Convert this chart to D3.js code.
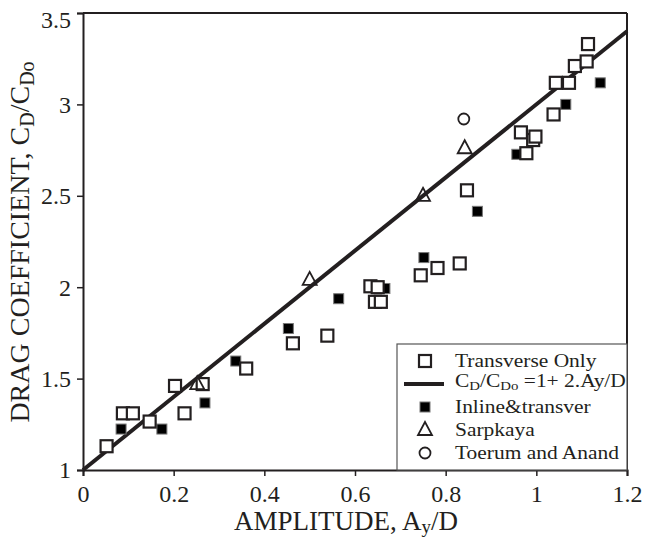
<!DOCTYPE html>
<html>
<head>
<meta charset="utf-8">
<script src="https://cdn.jsdelivr.net/npm/d3@7"></script>
<style>
  html, body { margin: 0; padding: 0; background: #fff; }
  svg text { font-family: 'Liberation Serif', 'Times New Roman', 'DejaVu Serif', serif !important; fill: #231f20; }
</style>
</head>
<body>
<svg id="chart" width="645" height="539" font-family="'Liberation Serif', serif"></svg>
<script>
// Measured drag amplification versus cross-flow amplitude
const transverseX = [0.052, 0.088, 0.110, 0.147, 0.203, 0.224, 0.264, 0.360, 0.463, 0.539,
  0.634, 0.650, 0.644, 0.657, 0.745, 0.782, 0.831, 0.847, 0.966, 0.978, 0.993, 0.998,
  1.038, 1.043, 1.072, 1.085, 1.111, 1.114];
const transverseY = [1.13, 1.31, 1.31, 1.265, 1.46, 1.31, 1.47, 1.555, 1.693, 1.735,
  2.005, 2.00, 1.92, 1.92, 2.065, 2.105, 2.13, 2.53, 2.847, 2.733, 2.805, 2.824,
  2.945, 3.118, 3.118, 3.21, 3.235, 3.33];

const inlineX = [0.084, 0.174, 0.269, 0.337, 0.453, 0.564, 0.666, 0.752, 0.870, 0.957, 1.065, 1.141];
const inlineY = [1.224, 1.224, 1.367, 1.596, 1.774, 1.937, 1.993, 2.162, 2.415, 2.727, 3.00, 3.118];

const sarpkayaX = [0.252, 0.50, 0.75, 0.842];
const sarpkayaY = [1.47, 2.04, 2.50, 2.76];

const toerumX = [0.84];
const toerumY = [2.92];

// Empirical fit CD/CDo = 1 + 2 Ay/D
const fitX = [0, 1.2];
const fitIntercept = 1;
const fitSlope = 2;

const xTicks = [0, 0.2, 0.4, 0.6, 0.8, 1, 1.2];
const yTicks = [1, 1.5, 2, 2.5, 3, 3.5];

const ink = "#231f20";
const serif = "'Liberation Serif', 'Times New Roman', serif";
const svg = d3.select("#chart");

const x = d3.scaleLinear().domain([0, 1.2]).range([83, 627]);
const y = d3.scaleLinear().domain([1, 3.5]).range([470, 13]);

// Axes
const xAxis = svg.append("g").attr("transform", `translate(0,${y(1)})`)
  .call(d3.axisBottom(x).tickValues(xTicks).tickSize(6).tickPadding(7)
    .tickFormat(d3.format("~g")));
const yAxis = svg.append("g").attr("transform", `translate(${x(0)},0)`)
  .call(d3.axisLeft(y).tickValues(yTicks).tickSize(6).tickPadding(6)
    .tickFormat(d3.format("~g")));
[xAxis, yAxis].forEach(g => {
  g.attr("font-family", serif);
  g.select(".domain").attr("stroke", ink).attr("stroke-width", 2);
  g.selectAll(".tick line").attr("stroke", ink).attr("stroke-width", 1.5);
  g.selectAll(".tick text").attr("font-size", 24).attr("fill", ink)
    .style("font-family", serif);
});
xAxis.selectAll(".tick text").attr("dy", "0.8em");
yAxis.selectAll(".tick text").attr("dy", "0.33em");
yAxis.selectAll(".tick text").filter(d => d === 3.5).attr("dy", "0.62em");

// Top and right frame lines
svg.append("line").attr("x1", x(0)).attr("x2", x(1.2)).attr("y1", y(3.5)).attr("y2", y(3.5))
  .attr("stroke", ink).attr("stroke-width", 2);
svg.append("line").attr("x1", x(1.2)).attr("x2", x(1.2)).attr("y1", y(3.5)).attr("y2", y(1))
  .attr("stroke", ink).attr("stroke-width", 2);

// Axis titles
const xTitle = svg.append("text").attr("x", 346).attr("y", 530)
  .attr("text-anchor", "middle").attr("font-size", 27).style("font-family", serif);
xTitle.append("tspan").text("AMPLITUDE, A");
xTitle.append("tspan").attr("font-size", 19).attr("dy", 3).text("y");
xTitle.append("tspan").attr("dy", -3).text("/D");

const yTitle = svg.append("text")
  .attr("transform", "translate(29,242) rotate(-90)")
  .attr("text-anchor", "middle").attr("font-size", 28).style("font-family", serif);
yTitle.append("tspan").text("DRAG COEFFICIENT, C");
yTitle.append("tspan").attr("font-size", 20).attr("dy", 5).text("D");
yTitle.append("tspan").attr("dy", -5).text("/C");
yTitle.append("tspan").attr("font-size", 20).attr("dy", 5).text("Do");

// Fit line
svg.append("line")
  .attr("x1", x(fitX[0])).attr("y1", y(fitIntercept + fitSlope * fitX[0]))
  .attr("x2", x(fitX[1])).attr("y2", y(fitIntercept + fitSlope * fitX[1]))
  .attr("stroke", ink).attr("stroke-width", 4);

// Legend panel
const lg = svg.append("g");
lg.append("rect").attr("x", 397).attr("y", 344).attr("width", 230).attr("height", 126)
  .attr("fill", "#fff").attr("stroke", "#555").attr("stroke-width", 1.2);

// Marker painters
function openSquare(sel, cx, cy) {
  sel.append("rect").attr("x", cx - 6).attr("y", cy - 6).attr("width", 12).attr("height", 12)
    .attr("fill", "#fff").attr("stroke", ink).attr("stroke-width", 2.2);
}
function filledSquare(sel, cx, cy) {
  sel.append("rect").attr("x", cx - 5).attr("y", cy - 5).attr("width", 10).attr("height", 10)
    .attr("fill", "#000").attr("stroke", "#777").attr("stroke-width", 1);
}
function triangle(sel, cx, cy) {
  sel.append("path").attr("d", `M${cx},${cy - 8}L${cx + 7},${cy + 5}L${cx - 7},${cy + 5}Z`)
    .attr("fill", "none").attr("stroke", ink).attr("stroke-width", 1.8);
}
function circle(sel, cx, cy) {
  sel.append("circle").attr("cx", cx).attr("cy", cy).attr("r", 5.5)
    .attr("fill", "none").attr("stroke", ink).attr("stroke-width", 1.8);
}

const marks = svg.append("g");
inlineX.forEach((v, i) => filledSquare(marks, x(v), y(inlineY[i])));
transverseX.forEach((v, i) => openSquare(marks, x(v), y(transverseY[i])));
sarpkayaX.forEach((v, i) => triangle(marks, x(v), y(sarpkayaY[i])));
toerumX.forEach((v, i) => circle(marks, x(v), y(toerumY[i])));

// Legend entries
const lx = 425, tx = 455;
const rows = [361, 384, 407, 430, 453];
openSquare(lg, lx, rows[0]);
lg.append("line").attr("x1", 404).attr("x2", 444).attr("y1", rows[1]).attr("y2", rows[1])
  .attr("stroke", ink).attr("stroke-width", 4);
filledSquare(lg, lx, rows[2]);
triangle(lg, lx, rows[3]);
circle(lg, lx, rows[4]);

// Legend labels: slightly widened glyphs so the column fills the panel
const fs = 19.5;
const legendText = (yy) => lg.append("text")
  .attr("transform", `translate(${tx},${yy}) scale(1.1,1)`)
  .attr("font-size", fs).style("font-family", serif);
legendText(rows[0] + 6).text("Transverse Only");
const eq = legendText(rows[1] + 3);
eq.append("tspan").text("C");
eq.append("tspan").attr("font-size", 13.5).attr("dy", 3).text("D");
eq.append("tspan").attr("dy", -3).text("/C");
eq.append("tspan").attr("font-size", 13.5).attr("dy", 3).text("Do");
eq.append("tspan").attr("dy", -3).text(" =1+ 2.Ay/D");
legendText(rows[2] + 6).text("Inline&transver");
legendText(rows[3] + 6).text("Sarpkaya");
legendText(rows[4] + 6).text("Toerum and Anand");
</script>
</body>
</html>
